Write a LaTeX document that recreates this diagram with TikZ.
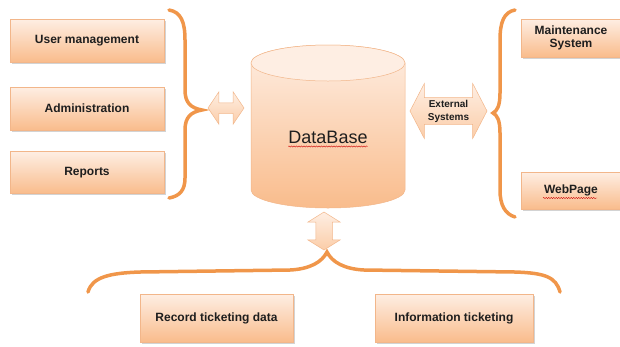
\documentclass[tikz,border=0pt]{standalone}
\usepackage{fontspec}
\setmainfont{Liberation Sans}
\usetikzlibrary{shapes.arrows,shadows,decorations.pathmorphing}
\definecolor{peachtop}{HTML}{FEEEE3}
\definecolor{peachbot}{HTML}{F9BC8C}
\definecolor{peachmid}{HTML}{FBCDA8}
\definecolor{peachline}{HTML}{F2B68A}
\definecolor{bracec}{HTML}{F0964A}
\definecolor{txt}{HTML}{1E1E1E}
\begin{document}
\begin{tikzpicture}[x=1pt,y=1pt,
  box/.style={draw=peachline, line width=0.6pt, top color=peachtop, bottom color=peachbot,
    drop shadow={shadow xshift=1.5pt, shadow yshift=-1.5pt, opacity=0.35},
    font=\bfseries\fontsize{12}{14}\selectfont, text=txt, align=center, inner sep=0pt},
  bracepath/.style={draw=bracec, line width=3.5pt, line cap=round},
  dbl/.style={double arrow, draw=peachline, line width=0.5pt, top color=peachtop, bottom color=peachmid,
    inner sep=0pt, double arrow head indent=0pt, text=txt},
  squiggle/.style={draw=red!80!black, line width=0.4pt, decorate,
    decoration={snake, amplitude=0.6pt, segment length=2.5pt}}
]
\useasboundingbox (0,0) rectangle (620,-346);

% left boxes
\node[box, minimum width=154pt, minimum height=43pt] (um) at (87,-40.5) {User management};
\node[box, minimum width=154pt, minimum height=43pt] (adm) at (87,-108.5) {Administration};
\node[box, minimum width=154pt, minimum height=42pt] (rep) at (87,-172.5) {Reports};

% right boxes
\node[box, minimum width=100pt, minimum height=38pt, font=\bfseries\fontsize{12}{13}\selectfont] (ms) at (571,-38) {Maintenance\\System};
\node[box, minimum width=100pt, minimum height=37pt] (wp) at (571,-190.5) {WebPage};

% bottom boxes
\node[box, minimum width=153pt, minimum height=48pt] (rtd) at (216.5,-318) {Record ticketing data};
\node[box, minimum width=158pt, minimum height=48pt] (it) at (454,-318) {Information ticketing};

% database cylinder
\path[top color=peachtop, bottom color=peachbot, draw=peachline, line width=0.5pt]
  (251,-63) -- (251,-190) arc[start angle=180, end angle=360, x radius=77, y radius=18]
  -- (405,-63) arc[start angle=0, end angle=180, x radius=77, y radius=18] -- cycle;
\draw[draw=peachline, line width=0.5pt, fill=peachtop] (328,-63) ellipse[x radius=77, y radius=18];
\node[font=\fontsize{18}{20}\selectfont, text=txt, inner sep=0pt] (db) at (328,-137) {DataBase};
\draw[squiggle] ([yshift=-3pt]db.south west) -- ([yshift=-3pt]db.south east);

% arrows
\node[dbl, inner xsep=0pt, inner ysep=5pt, minimum height=36pt, double arrow head extend=11pt,
  double arrow tip angle=112] (la) at (226,-108) {};
\node[dbl, minimum height=77pt, inner ysep=2pt, double arrow head extend=14pt,
  double arrow tip angle=125, align=center, font=\bfseries\fontsize{10}{13}\selectfont] (ext) at (448.5,-111) {External\\Systems};
\node[dbl, shape border rotate=90, inner xsep=8pt, inner ysep=0pt, minimum height=38pt, double arrow head extend=8pt,
  double arrow tip angle=116] (ba) at (324,-231) {};

% squiggle under WebPage
\draw[squiggle] (543,-198) -- (597,-198);

% braces
\draw[bracepath] (169,-10) .. controls (181,-12) and (185,-22) .. (185,-40) -- (185,-90)
  .. controls (185,-103) and (191,-108) .. (202,-110)
  .. controls (191,-112) and (185,-117) .. (185,-130) -- (185,-178)
  .. controls (185,-190) and (180,-196) .. (169,-198);
\draw[bracepath] (515,-10) .. controls (504,-12) and (500,-22) .. (500,-40) -- (500,-93)
  .. controls (500,-106) and (497,-111) .. (493,-113)
  .. controls (497,-115) and (500,-120) .. (500,-133) -- (500,-190)
  .. controls (500,-205) and (505,-214) .. (515,-217);
\draw[bracepath] (88,-292) .. controls (92,-277) and (110,-273) .. (140,-272) -- (290,-270)
  .. controls (310,-269) and (322,-262) .. (327,-252)
  .. controls (332,-262) and (344,-269) .. (364,-270) -- (515,-272)
  .. controls (545,-273) and (556,-277) .. (560,-292);
\end{tikzpicture}
\end{document}
